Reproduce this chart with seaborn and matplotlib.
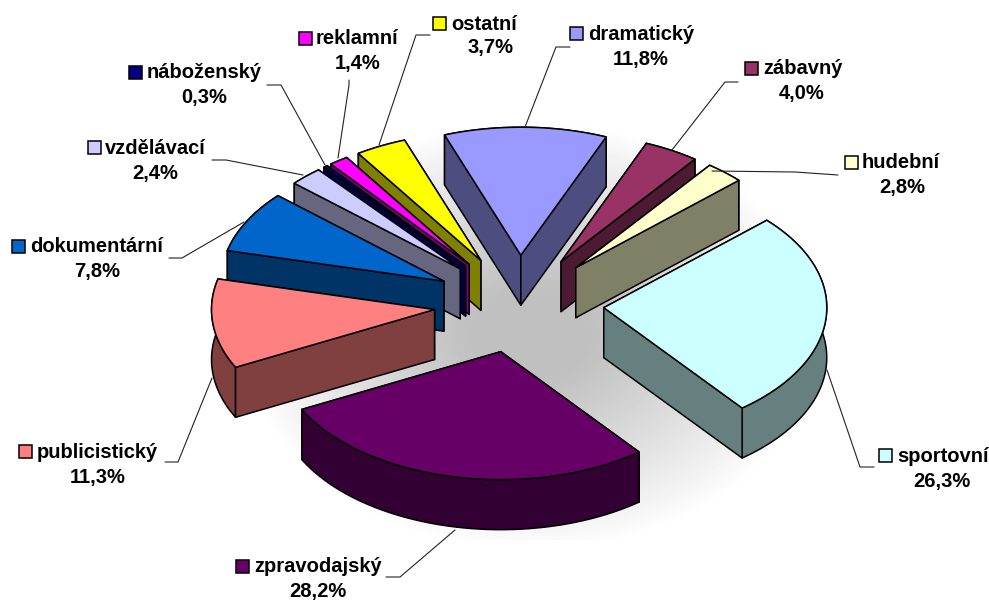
import numpy as np
import matplotlib
matplotlib.use('Agg')
import matplotlib.pyplot as plt
from matplotlib.patches import Rectangle
import seaborn as sns

# Data
genres = ['dramatický', 'zábavný', 'hudební', 'sportovní', 'zpravodajský', 'publicistický',
          'dokumentární', 'vzdělávací', 'náboženský', 'reklamní', 'ostatní']
shares = [11.8, 4.0, 2.8, 26.3, 28.2, 11.3, 7.8, 2.4, 0.3, 1.4, 3.7]
hex_colors = ['#9999FF', '#993366', '#FFFFCC', '#CCFFFF', '#660066', '#FF8080',
              '#0066CC', '#CCCCFF', '#000080', '#FF00FF', '#FFFF00']

# Pie geometry, in pixels of the output
CX, CY = 519, 304
RX, RY = 223, 128
DEPTH = 50
EXPLODE = 85
START_ANGLE = -20

# key x, name left x, name y, percent centre x, percent y
label_layout = [
    (576, 588, 34, 641, 59),
    (751, 763, 69, 802, 93),
    (851, 862, 163, 902, 188),
    (885, 897, 456, 942, 481),
    (242, 254, 567, 318, 592),
    (25, 37, 452, 98, 477),
    (18, 30, 247, 97, 272),
    (94, 105, 148, 155, 173),
    (135, 147, 73, 204, 98),
    (305, 316, 39, 358, 64),
    (439, 451, 24, 490, 48),
]
leaders = [
    [(525, 127), (556, 47), (570, 47)],
    [(672, 150), (725, 82), (738, 82)],
    [(712, 171), (795, 172), (838, 175)],
    [(827, 370), (860, 467), (874, 467)],
    [(455, 530), (400, 577), (386, 577)],
    [(212, 378), (178, 462), (165, 462)],
    [(244, 222), (182, 258), (169, 258)],
    [(303, 175), (226, 160), (212, 160)],
    [(325, 165), (281, 85), (267, 85)],
    [(338, 158), (349, 85), (349, 80)],
    [(379, 145), (416, 35), (430, 35)],
]


def rim_point(angle, ox, oy):
    a = np.radians(angle)
    return ox + RX * np.sin(a), oy - RY * np.cos(a)


def main():
    sns.set_theme(style='white')
    plt.rcParams['font.family'] = ['Liberation Sans', 'DejaVu Sans']
    palette = sns.color_palette(hex_colors)

    fig = plt.figure(figsize=(9.89, 6.01), dpi=100)
    ax = fig.add_axes([0, 0, 1, 1])
    ax.set_xlim(0, 989)
    ax.set_ylim(601, 0)
    ax.axis('off')

    # Soft floor shadow behind the pie
    xx, yy = np.meshgrid(np.arange(230, 806), np.arange(90, 540))
    r = np.sqrt(((xx - 530) / 290.0) ** 2 + ((yy - 335) / 215.0) ** 2)
    shade = 1 - 0.25 * np.clip(1.25 * (1 - r), 0, 1) ** 0.9
    ax.imshow(shade, cmap='gray', vmin=0, vmax=1, extent=(230, 806, 540, 90),
              aspect='auto', zorder=0, interpolation='bilinear')

    # Slices, from the back of the pie to the front
    spans = np.array(shares) / sum(shares) * 360
    starts = START_ANGLE + np.concatenate([[0], np.cumsum(spans)[:-1]])
    mids = starts + spans / 2
    order = np.argsort(-np.cos(np.radians(mids)))

    for z, i in enumerate(order):
        a = np.radians(mids[i])
        ox = CX + EXPLODE * np.sin(a)
        oy = CY - EXPLODE * np.cos(a) * RY / RX

        angles = np.linspace(starts[i], starts[i] + spans[i], 80)
        arc_x, arc_y = rim_point(angles, ox, oy)
        top_x = np.concatenate([[ox], arc_x])
        top_y = np.concatenate([[oy], arc_y])
        base = palette[i]
        dark = tuple(c * 0.5 for c in base)

        sides = [
            ([ox, arc_x[0], arc_x[0], ox], [oy, arc_y[0], arc_y[0] + DEPTH, oy + DEPTH]),
            ([ox, arc_x[-1], arc_x[-1], ox], [oy, arc_y[-1], arc_y[-1] + DEPTH, oy + DEPTH]),
            (np.concatenate([arc_x, arc_x[::-1]]), np.concatenate([arc_y, arc_y[::-1] + DEPTH])),
        ]
        sides.sort(key=lambda s: np.mean(s[1]))
        for sx, sy in sides:
            ax.fill(sx, sy, facecolor=dark, edgecolor='black', linewidth=1.1,
                    joinstyle='round', zorder=2 + z)
        ax.fill(top_x, top_y, facecolor=base, edgecolor='black', linewidth=1.1,
                joinstyle='round', zorder=2 + z)

    # Leader lines, keys and labels
    for i, name in enumerate(genres):
        lx, ly = zip(*leaders[i])
        ax.plot(lx, ly, color='#222222', linewidth=0.8, zorder=30)

        key_x, name_x, name_y, pct_x, pct_y = label_layout[i]
        ax.add_patch(Rectangle((key_x - 6.5, name_y - 7.5), 13, 13, facecolor=palette[i],
                               edgecolor='black', linewidth=1.1, zorder=31))
        ax.text(name_x, name_y, name, ha='left', va='center', fontsize=14.5,
                fontweight='bold', color='black', zorder=32)
        ax.text(pct_x, pct_y, f'{shares[i]:.1f}%'.replace('.', ','), ha='center', va='center',
                fontsize=14.5, fontweight='bold', color='black', zorder=32)

    fig.savefig('out.png', dpi=100)


if __name__ == '__main__':
    main()
